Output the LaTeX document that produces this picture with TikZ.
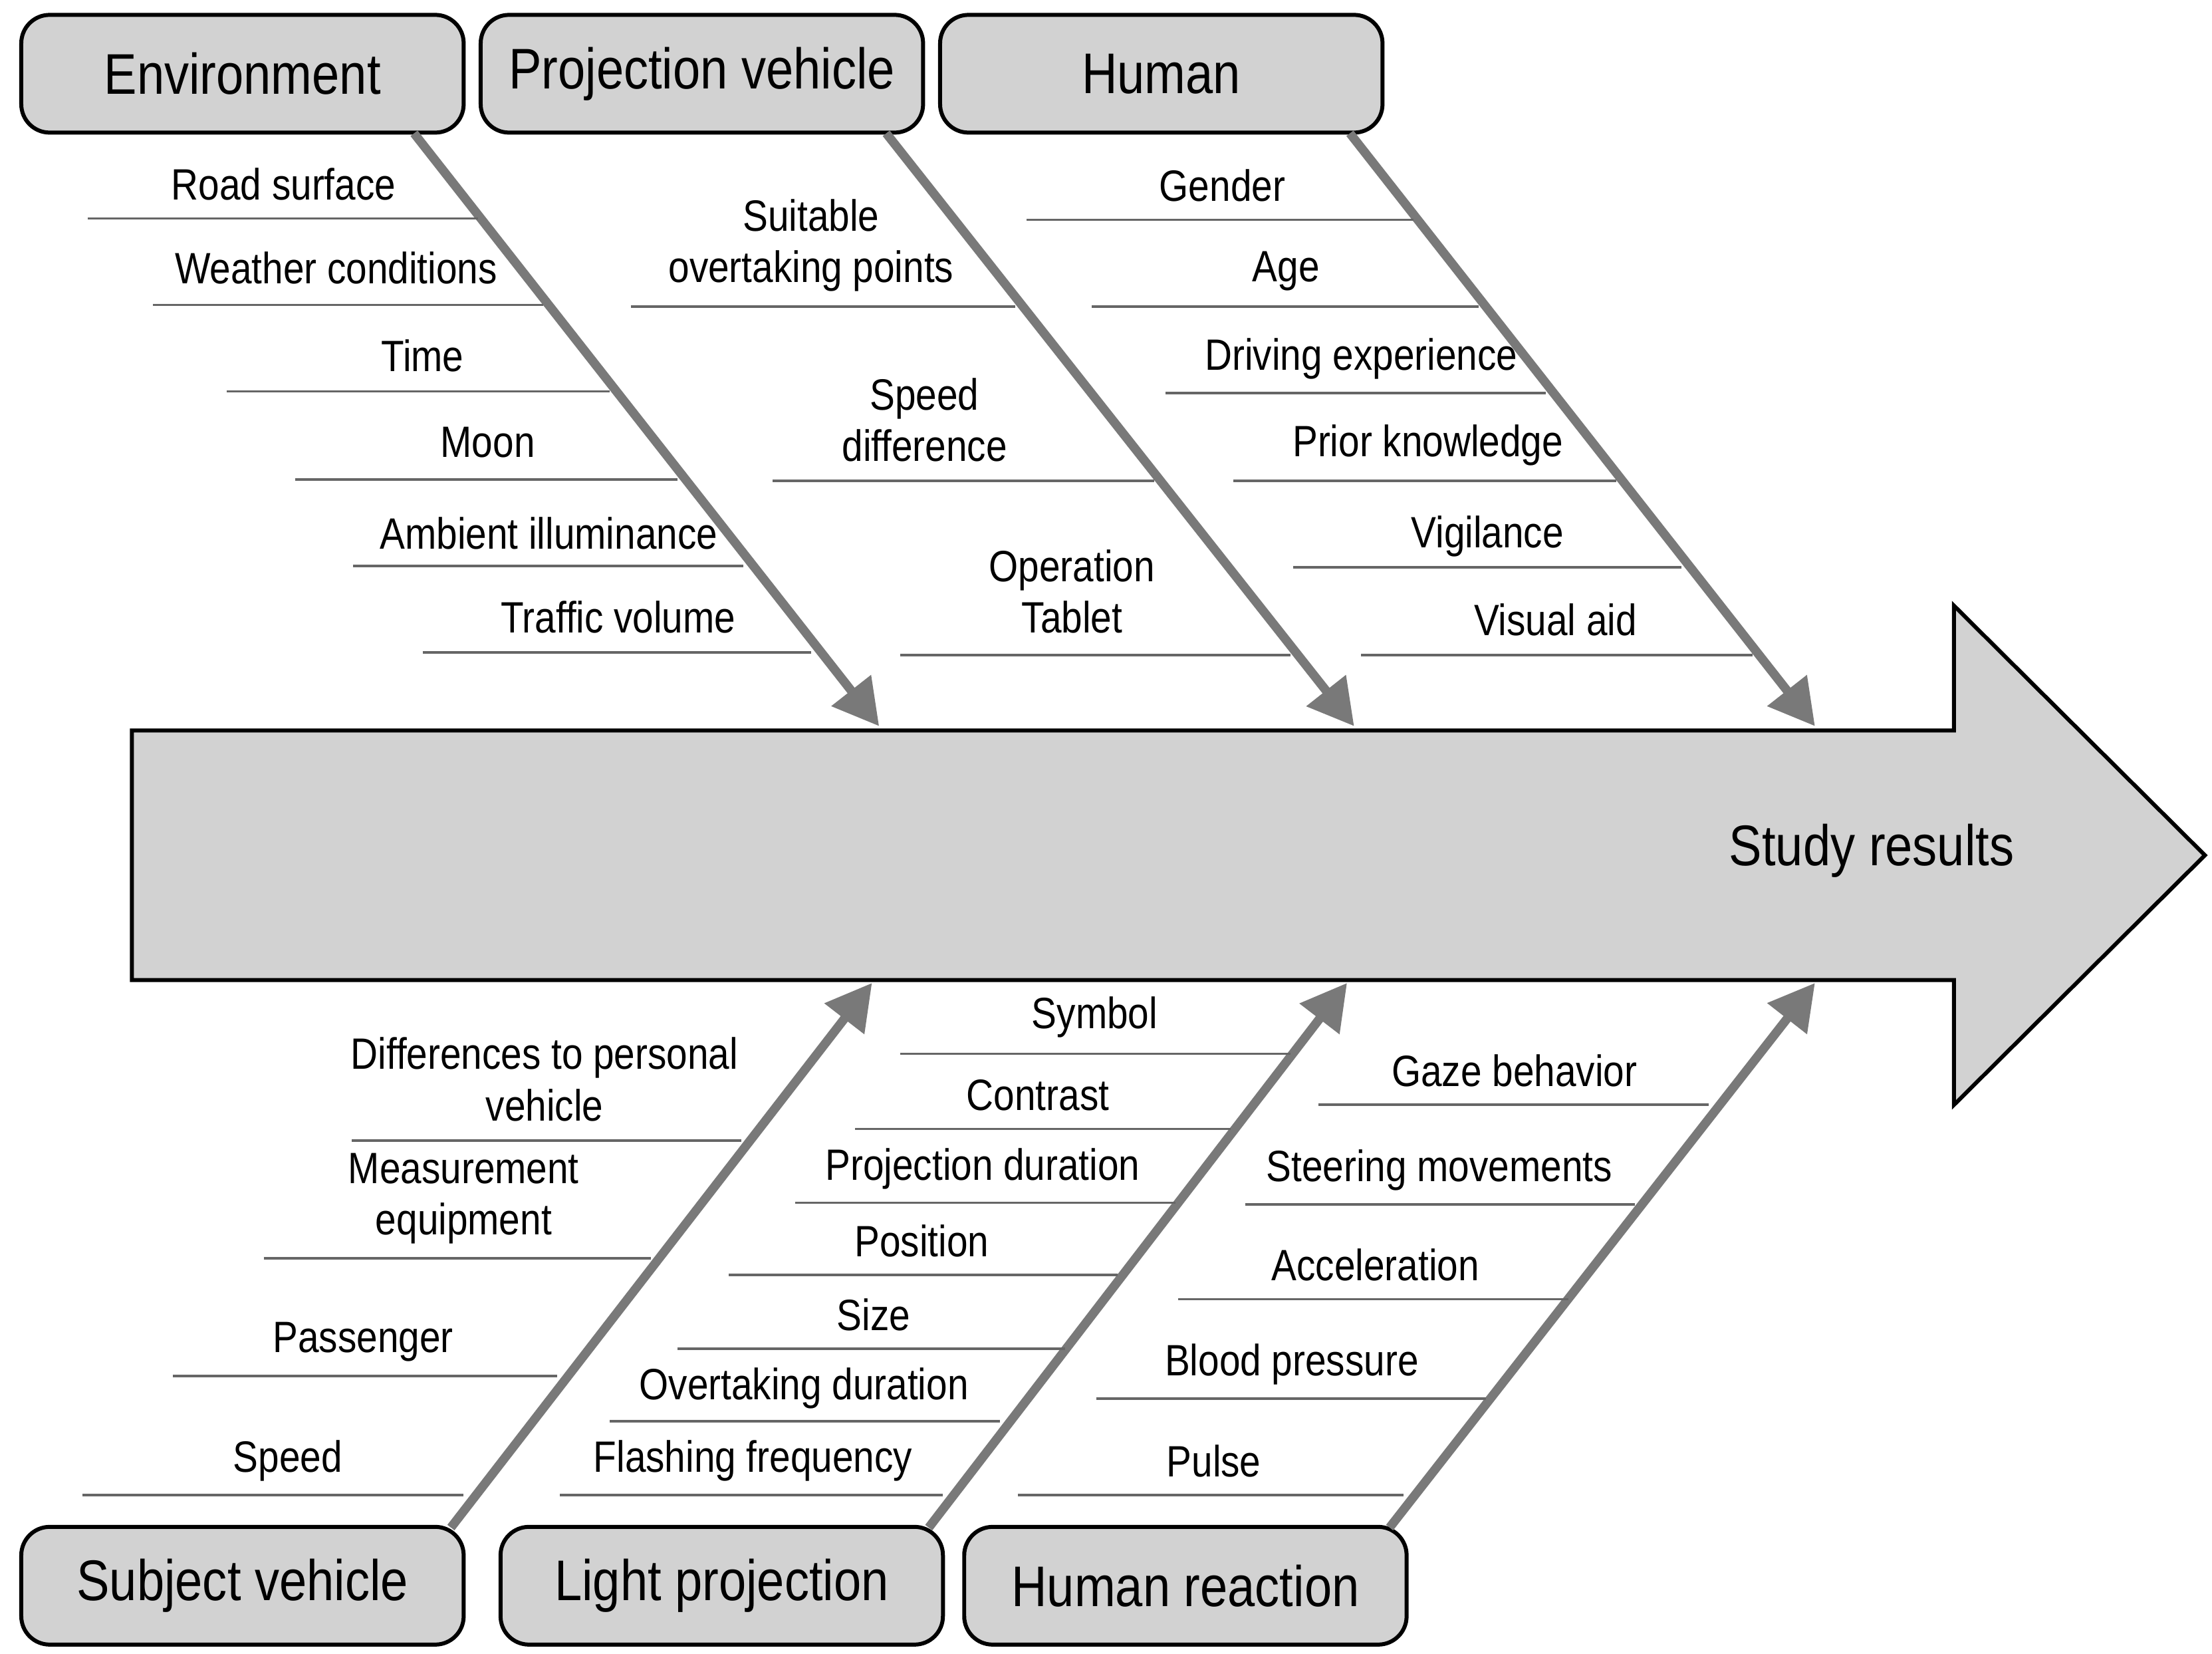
\documentclass[tikz,border=0pt]{standalone}
\usepackage{fontspec}
\setmainfont{Liberation Sans}[FakeStretch=0.86]
\usetikzlibrary{arrows.meta}
\begin{document}
\begin{tikzpicture}[x=0.1mm,y=-0.1mm,
  cat/.style={draw,thick,rounded corners=2mm,fill=gray!35,minimum width=31.2mm,minimum height=8.3mm,font=\fontsize{11.5}{13}\selectfont},
  bone/.style={draw=gray!95!black,line width=1.8pt,-{Triangle[length=3.2mm,width=3.4mm]}},
  lbl/.style={font=\fontsize{8.8}{10.3}\selectfont,align=center},
  tick/.style={draw=gray!80!black,line width=0.5pt}]
\useasboundingbox (0,0) rectangle (1560,1166);
\node[draw,thick,fill=gray!35,inner sep=0,minimum size=0] (spine) at (0,0) {};
\path[draw,thick,fill=gray!35] (93,515) -- (1378,515) -- (1378,427) -- (1555,603) -- (1378,779) -- (1378,691) -- (93,691) -- cycle;
\node[font=\fontsize{11.5}{13}\selectfont] (res) at (1320,600) {Study results};
% category boxes
\node[cat] (env) at (171,52) {Environment};
\node[cat] (pv) at (495,52) {Projection vehicle};
\node[cat] (hum) at (819,52) {Human};
\node[cat] (sv) at (171,1118) {Subject vehicle};
\node[cat] (lp) at (509,1118) {Light projection};
\node[cat] (hr) at (836,1118) {Human reaction};
% bone ends
\coordinate (e1) at (620,512); \coordinate (e2) at (955,512); \coordinate (e3) at (1280,512);
\coordinate (f1) at (615,693); \coordinate (f2) at (950,693); \coordinate (f3) at (1280,693);
\draw[bone] (292,94) -- (e1);
\draw[bone] (625,94) -- (e2);
\draw[bone] (952,94) -- (e3);
\draw[bone] (318,1077) -- (f1);
\draw[bone] (655,1077) -- (f2);
\draw[bone] (980,1077) -- (f3);
% labels: name / line y / x1 / x2 / text x / text y / text
\foreach \n/\y/\a/\b/\tx/\ty/\t in {
 a1/154/62/337/200/130/Road surface,
 a2/215/108/383/237/189/Weather conditions,
 a3/276/160/430/298/251/Time,
 a4/338/208/478/344/312/Moon,
 a5/399/249/524/387/376/Ambient illuminance,
 a6/460/298/572/436/435/Traffic volume,
 b1/216/445/716/572/173/Suitable\\overtaking points,
 b2/339/545/814/652/296/Speed\\difference,
 b3/462/635/910/756/417/Operation\\Tablet,
 c1/155/724/997/862/131/Gender,
 c2/216/770/1043/907/191/Age,
 c3/277/822/1090/960/253/Driving experience,
 c4/339/870/1140/1007/314/Prior knowledge,
 c5/400/912/1186/1049/378/Vigilance,
 c6/462/960/1236/1097/437/Visual aid,
 d1/804/248/523/384/761/Differences to personal\\vehicle,
 d2/887/186/459/327/845/Measurement\\equipment,
 d3/970/122/393/256/946/Passenger,
 d4/1054/58/327/203/1030/Speed,
 g1/743/635/910/772/717/Symbol,
 g2/796/603/868/732/772/Contrast,
 g3/848/561/829/693/824/Projection duration,
 g4/899/514/788/650/875/Position,
 g5/951/478/751/616/927/Size,
 g6/1002/430/705/567/979/Overtaking duration,
 g7/1054/395/665/531/1030/Flashing frequency,
 h1/779/930/1205/1068/755/Gaze behavior,
 h2/849/878/1153/1015/825/Steering movements,
 h3/916/831/1106/970/892/Acceleration,
 h4/986/773/1048/911/962/Blood pressure,
 h5/1054/718/990/856/1030/Pulse}{
 \coordinate (\n s) at (\a,\y); \coordinate (\n e) at (\b,\y);
 \draw[tick] (\n s) -- (\n e);
 \node[lbl] (\n) at (\tx,\ty) {\t};
}
\end{tikzpicture}
\end{document}
